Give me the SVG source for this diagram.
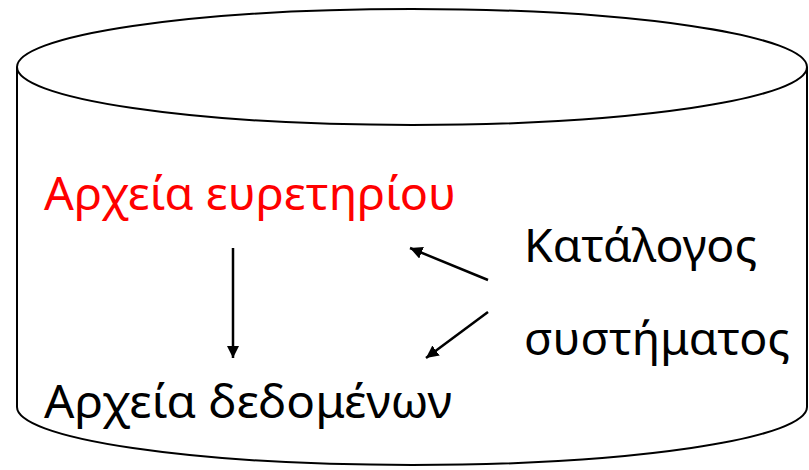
<svg xmlns="http://www.w3.org/2000/svg" width="809" height="470" viewBox="0 0 809 470">
<style>
.s{fill:none;stroke:#000;stroke-width:2}
.t{font-family:"Noto Sans","Open Sans","DejaVu Sans",sans-serif;font-size:45px;fill:#000}
.r{fill:#ff0000}
.c{stroke:#000;stroke-width:2.5;fill:none}
</style>
<defs>
<marker id="ah" viewBox="0 0 10 10" refX="10" refY="5" markerWidth="5" markerHeight="5" orient="auto" markerUnits="strokeWidth">
<path d="M0,0 L10,5 L0,10 z" fill="#000"/>
</marker>
</defs>
<g id="cylinder">
<path class="s" d="M17,67 L17,407 A395,58 0 0 0 807,407 L807,67"/>
<ellipse class="s" cx="412" cy="67" rx="395" ry="58" fill="#fff"/>
</g>
<g id="index"><text class="t r" x="44" y="210" textLength="412" lengthAdjust="spacingAndGlyphs">Αρχεία ευρετηρίου</text></g>
<g id="catalog"><text class="t" x="524" y="262" textLength="233" lengthAdjust="spacingAndGlyphs">Κατάλογος</text><text class="t" x="524" y="355" textLength="266" lengthAdjust="spacingAndGlyphs">συστήματος</text></g>
<g id="data"><text class="t" x="44" y="418" textLength="408" lengthAdjust="spacingAndGlyphs">Αρχεία δεδομένων</text></g>
<g id="connectors">
<line class="c" x1="233" y1="248" x2="233" y2="358" marker-end="url(#ah)"/>
<line class="c" x1="488" y1="280" x2="410" y2="248" marker-end="url(#ah)"/>
<line class="c" x1="488" y1="312" x2="426" y2="358" marker-end="url(#ah)"/>
</g>
</svg>
